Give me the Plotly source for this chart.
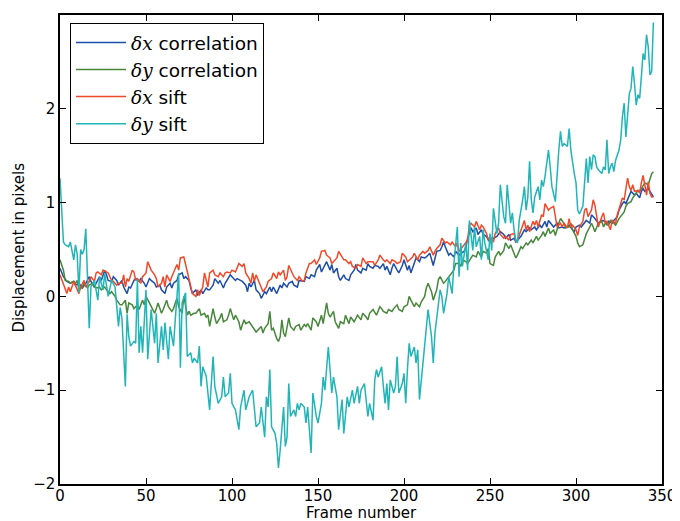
import plotly.graph_objects as go

# ---------------- data ----------------
frames_dx_sift = [0,2,4,5,6,8,9,11,12,14,15,17,18,20,21,22,24,25,27,28,30,31,33,34,36,37,38,39,40,42,43,44,45,47,48,50,51,52,53,55,56,57,59,60,61,62,64,65,66,68,69,70,72,73,75,76,77,79,80,81,83,84,85,86,87,89,90,92,93,95,96,97,99,100,102,103,104,106,107,108,110,111,112,113,114,116,117,118,120,121,123,124,126,127,128,130,131,132,133,135,136,138,139,141,142,143,145,146,148,149,151,152,154,155,157,158,159,161,162,164,165,166,168,169,170,172,173,175,176,178,179,182,183,185,186,188,189,190,192,193,195,196,198,199,201,202,204,205,206,208,209,211,212,214,215,217,218,219,221,222,224,225,227,228,230,231,232,234,235,237,238,239,241,242,244,245,246,248,249,250,252,253,255,256,258,259,261,262,264,265,266,267,269,270,271,272,273,275,276,277,278,280,281,282,284,285,287,288,289,291,292,293,295,296,297,298,300,301,302,304,305,306,307,309,310,311,312,313,315,316,317,318,320,321,323,324,326,327,328,329,330,331,332,333,334,336,337,338,339,340,341,342,343,344,345]
dx_sift = [0.23,0.14,0.03,0.10,0.05,0.16,0.12,0.03,0.10,0.17,0.10,0.16,0.21,0.16,0.25,0.26,0.23,0.28,0.26,0.25,0.17,0.16,0.12,0.14,0.14,0.23,0.10,0.19,0.16,0.28,0.26,0.17,0.19,0.14,0.21,0.25,0.37,0.32,0.28,0.23,0.19,0.10,0.14,0.21,0.10,0.23,0.16,0.21,0.25,0.34,0.28,0.41,0.42,0.34,0.21,0.10,0.03,0.00,0.07,0.01,0.10,0.25,0.16,0.10,0.25,0.28,0.23,0.21,0.25,0.21,0.25,0.26,0.25,0.28,0.26,0.30,0.35,0.32,0.35,0.25,0.19,0.14,0.25,0.16,0.23,0.14,0.10,0.05,0.10,0.16,0.19,0.25,0.19,0.26,0.23,0.28,0.17,0.21,0.33,0.26,0.21,0.17,0.21,0.16,0.17,0.25,0.35,0.35,0.39,0.34,0.41,0.48,0.49,0.44,0.41,0.35,0.37,0.41,0.48,0.41,0.39,0.39,0.35,0.37,0.32,0.30,0.34,0.32,0.41,0.35,0.37,0.37,0.33,0.39,0.44,0.39,0.37,0.39,0.35,0.39,0.37,0.35,0.37,0.46,0.42,0.37,0.41,0.42,0.46,0.39,0.44,0.48,0.46,0.49,0.53,0.44,0.48,0.51,0.55,0.62,0.57,0.58,0.55,0.58,0.53,0.57,0.48,0.53,0.55,0.60,0.76,0.78,0.74,0.80,0.71,0.76,0.74,0.67,0.60,0.64,0.58,0.67,0.73,0.66,0.62,0.64,0.60,0.66,0.67,0.58,0.60,0.65,0.74,0.81,0.71,0.76,0.69,0.80,0.76,0.81,0.74,0.87,0.85,0.99,0.92,0.94,0.96,0.83,0.74,0.78,0.74,0.78,0.73,0.83,0.74,0.76,0.71,0.65,0.74,0.80,0.92,0.94,0.85,0.92,1.03,0.97,0.85,0.74,0.85,0.89,0.78,0.80,0.71,0.81,0.78,0.87,0.99,1.05,1.03,1.17,1.26,1.17,1.13,1.19,1.12,1.13,1.10,1.21,1.29,1.19,1.08,1.22,1.10,1.06,1.06]

frames_dx_corr = [0,2,4,6,8,9,11,13,15,17,18,20,21,23,24,26,27,28,30,31,33,34,36,37,39,40,41,43,44,46,47,49,50,52,53,55,56,58,59,61,62,64,65,66,68,69,71,72,73,75,76,77,79,80,82,83,85,86,87,89,90,92,93,95,96,97,99,100,102,103,105,106,108,109,110,111,113,114,116,117,119,120,122,123,124,126,128,129,130,132,133,135,136,138,139,141,142,143,145,146,148,149,151,152,154,155,157,158,159,161,162,163,165,166,168,169,171,172,173,175,176,178,179,180,182,183,185,186,188,189,190,192,193,194,196,197,199,200,202,203,204,206,207,209,210,212,213,215,216,217,219,221,222,223,224,226,227,229,230,232,233,235,236,237,239,240,242,243,245,246,248,249,250,252,254,255,256,258,259,261,262,264,265,266,268,270,271,273,274,276,277,279,280,282,283,284,286,287,289,290,292,293,295,296,298,299,300,302,303,305,306,308,309,311,312,313,315,317,318,319,321,322,324,325,327,328,329,331,332,334,335,337,338,339,340,342,343,344,345]
dx_corr = [0.30,0.21,0.16,0.14,0.16,0.12,0.14,0.09,0.14,0.21,0.16,0.10,0.14,0.21,0.17,0.28,0.23,0.17,0.16,0.21,0.17,0.12,0.17,0.10,0.03,0.10,0.09,0.17,0.19,0.16,0.19,0.14,0.10,0.19,0.17,0.14,0.10,0.12,0.07,0.03,0.10,0.14,0.09,0.14,0.17,0.23,0.25,0.19,0.21,0.17,0.09,0.03,0.07,0.01,0.07,0.03,0.09,0.07,0.07,0.12,0.19,0.14,0.17,0.09,0.14,0.17,0.23,0.21,0.17,0.19,0.17,0.16,0.12,0.05,0.14,0.10,0.17,0.07,0.03,-0.02,0.05,0.03,0.10,0.05,0.10,0.03,0.12,0.09,0.14,0.10,0.14,0.16,0.12,0.10,0.17,0.16,0.16,0.21,0.19,0.23,0.21,0.28,0.34,0.26,0.34,0.37,0.28,0.34,0.25,0.30,0.21,0.17,0.23,0.19,0.17,0.23,0.28,0.34,0.28,0.25,0.30,0.28,0.35,0.32,0.30,0.33,0.32,0.30,0.35,0.28,0.32,0.23,0.30,0.35,0.28,0.25,0.33,0.39,0.28,0.33,0.25,0.35,0.41,0.37,0.42,0.41,0.42,0.46,0.39,0.33,0.48,0.49,0.53,0.58,0.53,0.44,0.46,0.42,0.48,0.44,0.46,0.48,0.53,0.62,0.73,0.69,0.73,0.66,0.71,0.66,0.64,0.60,0.58,0.62,0.64,0.67,0.69,0.66,0.62,0.66,0.60,0.62,0.58,0.60,0.64,0.71,0.69,0.73,0.71,0.74,0.71,0.76,0.73,0.80,0.74,0.81,0.76,0.74,0.78,0.73,0.74,0.73,0.74,0.76,0.71,0.69,0.74,0.76,0.74,0.78,0.81,0.78,0.87,0.83,0.80,0.78,0.81,0.80,0.76,0.80,0.78,0.81,0.85,0.92,0.99,1.01,0.99,1.08,1.12,1.08,1.10,1.05,1.12,1.15,1.12,1.15,1.12,1.08,1.06]

frames_dy_corr = [0,2,3,5,6,8,9,10,11,13,14,16,17,19,20,22,23,24,26,27,29,30,32,33,35,36,38,39,40,42,43,45,46,48,49,50,52,53,55,56,57,59,60,62,63,65,66,68,69,71,72,74,75,76,78,79,81,82,84,85,86,87,89,90,91,93,94,95,97,98,99,101,102,104,105,107,108,110,111,112,114,115,117,118,119,121,122,123,124,126,127,128,129,130,131,133,134,136,137,139,140,142,143,144,146,147,149,150,152,153,155,156,157,159,160,162,163,165,166,168,169,171,172,173,175,176,178,179,180,182,184,186,187,188,190,191,193,194,196,197,199,200,202,203,204,206,207,209,210,212,213,214,216,217,219,220,221,223,224,226,227,229,230,232,233,234,236,237,239,240,242,243,245,246,248,249,250,252,253,255,256,258,259,261,262,264,265,266,268,269,271,272,274,275,277,278,280,281,282,284,285,287,288,290,291,293,294,296,297,298,300,301,302,304,305,306,308,309,310,311,313,315,316,317,319,320,322,323,325,326,328,329,330,332,333,335,336,337,339,340,342,343,344,345]
dy_corr = [0.39,0.28,0.17,0.16,0.14,0.16,0.14,0.17,0.07,0.10,0.14,0.09,0.12,0.14,0.10,0.09,0.10,0.07,0.10,0.07,0.03,0.05,0.00,-0.04,-0.09,-0.09,-0.04,-0.18,-0.07,-0.09,-0.13,-0.09,-0.14,-0.04,-0.09,0.00,-0.07,-0.11,-0.18,-0.13,-0.07,-0.18,-0.14,-0.04,-0.11,-0.16,-0.13,-0.02,-0.11,-0.18,0.00,-0.20,-0.16,-0.20,-0.18,-0.18,-0.13,-0.20,-0.18,-0.22,-0.20,-0.32,-0.13,-0.22,-0.29,-0.23,-0.18,-0.27,-0.25,-0.20,-0.13,-0.25,-0.20,-0.27,-0.36,-0.25,-0.29,-0.27,-0.30,-0.32,-0.38,-0.36,-0.32,-0.39,-0.34,-0.29,-0.16,-0.36,-0.34,-0.45,-0.48,-0.43,-0.25,-0.39,-0.43,-0.23,-0.32,-0.36,-0.32,-0.30,-0.36,-0.30,-0.32,-0.29,-0.36,-0.23,-0.27,-0.32,-0.20,-0.29,-0.07,-0.18,-0.22,-0.16,-0.27,-0.34,-0.27,-0.29,-0.20,-0.29,-0.22,-0.27,-0.23,-0.20,-0.25,-0.18,-0.22,-0.25,-0.18,-0.14,-0.20,-0.11,-0.13,-0.16,-0.18,-0.14,-0.16,-0.13,-0.09,-0.14,-0.16,-0.11,-0.09,0.00,-0.04,-0.11,-0.07,-0.11,-0.06,0.00,0.09,0.14,0.05,-0.04,0.07,0.18,0.21,0.14,0.16,0.21,0.23,0.28,0.35,0.35,0.32,0.39,0.37,0.35,0.41,0.44,0.42,0.48,0.42,0.48,0.46,0.51,0.35,0.33,0.42,0.48,0.44,0.49,0.57,0.51,0.55,0.46,0.41,0.44,0.53,0.51,0.57,0.55,0.60,0.57,0.64,0.60,0.65,0.69,0.64,0.73,0.67,0.71,0.65,0.78,0.83,0.78,0.73,0.74,0.78,0.71,0.64,0.57,0.53,0.55,0.62,0.67,0.74,0.78,0.74,0.69,0.78,0.80,0.74,0.78,0.76,0.81,0.78,0.76,0.83,0.85,0.90,0.96,0.99,1.01,1.05,1.10,1.13,1.12,1.19,1.21,1.19,1.26,1.31,1.33]

frames_dy_sift = [0,2,3,5,6,7,8,9,10,11,12,13,14,15,16,17,18,20,22,23,25,26,28,30,32,34,35,36,38,39,40,41,43,44,45,46,47,48,50,51,53,55,56,57,59,60,61,63,64,66,67,69,70,71,73,74,76,77,78,80,81,82,83,85,87,89,90,92,94,95,96,98,99,100,102,104,105,107,108,110,112,114,116,117,119,120,121,122,123,125,126,127,128,130,131,132,133,134,136,137,138,139,140,142,143,144,146,147,149,150,152,153,154,156,157,158,159,161,162,164,165,167,168,170,171,172,173,174,175,177,179,180,182,183,184,185,187,188,189,190,191,192,194,195,196,197,199,200,201,202,203,204,206,207,208,209,211,212,213,214,216,217,218,220,221,222,223,225,226,228,229,231,232,233,234,236,237,238,240,241,242,244,245,246,247,249,250,251,252,254,255,256,258,259,260,262,263,264,265,266,267,269,270,271,272,273,274,275,276,278,279,280,281,282,284,285,286,288,289,290,291,292,293,295,296,297,299,300,301,302,304,305,306,307,308,309,310,311,312,313,315,316,317,318,319,320,321,322,323,325,326,327,328,329,330,331,332,333,334,335,336,337,338,339,340,341,342,343,344,345]
dy_sift = [1.26,0.58,0.55,0.53,0.58,0.47,0.39,0.55,0.45,0.04,0.50,0.45,0.50,0.72,0.28,-0.34,0.10,0.17,-0.04,0.21,0.07,0.24,0.00,0.17,0.10,-0.32,-0.12,-0.23,-0.96,-0.19,-0.43,-0.53,-0.48,-0.50,0.18,-0.60,-0.32,-0.60,0.07,-0.67,-0.14,-0.50,-0.18,-0.71,-0.32,-0.57,-0.28,-0.67,-0.32,-0.53,-0.25,0.25,-0.76,-0.07,0.04,-0.64,-0.60,-0.71,-0.66,-0.71,-0.53,-0.96,-0.75,-0.85,-1.21,-0.64,-0.96,-1.14,-1.07,-0.86,-1.07,-1.03,-0.82,-1.14,-1.21,-1.42,-1.18,-1.00,-1.21,-1.07,-1.00,-1.39,-1.35,-1.18,-1.50,-1.07,-1.18,-0.78,-1.39,-1.46,-1.57,-1.83,-1.64,-1.18,-1.60,-1.50,-0.93,-1.28,-1.21,-1.28,-1.14,-1.21,-1.14,-1.18,-1.35,-1.18,-1.67,-1.03,-1.28,-1.35,-1.14,-0.86,-1.00,-0.54,-0.78,-1.03,-0.86,-1.07,-1.42,-1.10,-1.46,-1.07,-1.18,-1.00,-1.14,-1.03,-0.96,-1.14,-1.00,-0.93,-1.28,-1.14,-1.32,-0.89,-0.78,-0.86,-0.75,-0.96,-1.14,-0.93,-1.21,-0.89,-1.03,-0.96,-0.64,-1.03,-0.93,-0.82,-1.14,-0.78,-0.50,-0.64,-0.54,-0.71,-0.57,-1.10,-0.71,-0.54,-0.36,-0.14,-0.43,-0.71,-0.39,-0.07,0.07,0.00,-0.18,0.03,0.21,0.03,0.35,0.74,0.21,0.57,0.32,0.57,0.28,0.81,0.49,0.74,0.53,0.64,0.39,0.71,0.57,0.39,0.67,0.49,0.94,0.67,0.78,1.19,0.85,0.78,1.19,0.78,0.89,0.71,0.60,0.57,0.81,1.03,1.17,0.92,1.06,1.44,1.03,0.89,1.06,1.17,1.03,1.24,1.17,1.28,1.56,1.38,1.17,1.01,1.31,1.56,1.76,1.60,1.63,1.60,1.79,1.56,1.31,1.21,0.92,0.88,0.96,1.21,1.47,1.21,1.49,1.35,1.51,1.49,1.38,1.35,1.31,1.38,1.35,1.67,1.31,1.38,1.42,1.33,1.45,1.56,1.67,1.92,2.06,1.70,1.92,2.16,2.22,2.45,2.27,2.04,2.15,2.11,2.34,2.59,2.52,2.79,2.66,2.36,2.40,2.92]

legend_names = [
    '<i><span style="font-family:DejaVu Serif">δx</span></i> correlation',
    '<i><span style="font-family:DejaVu Serif">δy</span></i> correlation',
    '<i><span style="font-family:DejaVu Serif">δx</span></i> sift',
    '<i><span style="font-family:DejaVu Serif">δy</span></i> sift',
]
colors = ["#1f4ea8", "#47873a", "#f0492a", "#22b5b8"]

x_ticks = [0, 50, 100, 150, 200, 250, 300, 350]
y_ticks = [-2, -1, 0, 1, 2, 3]

# ---------------- figure ----------------
fig = go.Figure()
series = [
    (frames_dx_corr, dx_corr),
    (frames_dy_corr, dy_corr),
    (frames_dx_sift, dx_sift),
    (frames_dy_sift, dy_sift),
]
for (fx, fy), name, col in zip(series, legend_names, colors):
    fig.add_trace(go.Scatter(x=fx, y=fy, mode="lines", name=name,
                             line=dict(color=col, width=1.5)))

axis_common = dict(showgrid=False, zeroline=False, showline=True,
                   linecolor="black", linewidth=1.5, mirror="allticks",
                   ticks="inside", ticklen=6, tickwidth=1, tickcolor="black",
                   automargin=False,
                   tickfont=dict(family="DejaVu Sans", size=15, color="black"))

fig.update_xaxes(range=[0, 350], tickvals=x_ticks, ticklabelstandoff=-3,
                 **axis_common)
fig.update_yaxes(range=[-2, 3], tickvals=y_ticks, **axis_common)

# the page body adds an 8 px offset, so the figure is sized to fit the window
fig.update_layout(
    width=672, height=513,
    margin=dict(l=52, r=18, t=7, b=37),
    plot_bgcolor="white", paper_bgcolor="white",
    font=dict(family="DejaVu Sans", size=15, color="black"),
    legend=dict(x=0.0166, y=0.983, xanchor="left", yanchor="top",
                bordercolor="black", borderwidth=1, bgcolor="white",
                font=dict(family="DejaVu Sans", size=18.5, color="black"),
                itemwidth=50, entrywidth=193, entrywidthmode="pixels",
                tracegroupgap=0),
    showlegend=True,
    annotations=[
        dict(text="Frame number", xref="paper", yref="paper", x=0.5, y=0,
             yshift=-29, showarrow=False, xanchor="center", yanchor="middle",
             font=dict(family="DejaVu Sans", size=15, color="black")),
        dict(text="Displacement in pixels", xref="paper", yref="paper", x=0,
             y=0.504, xshift=-41, showarrow=False, textangle=-90,
             xanchor="center", yanchor="middle",
             font=dict(family="DejaVu Sans", size=15, color="black")),
    ],
)

fig.write_html("out.html")
